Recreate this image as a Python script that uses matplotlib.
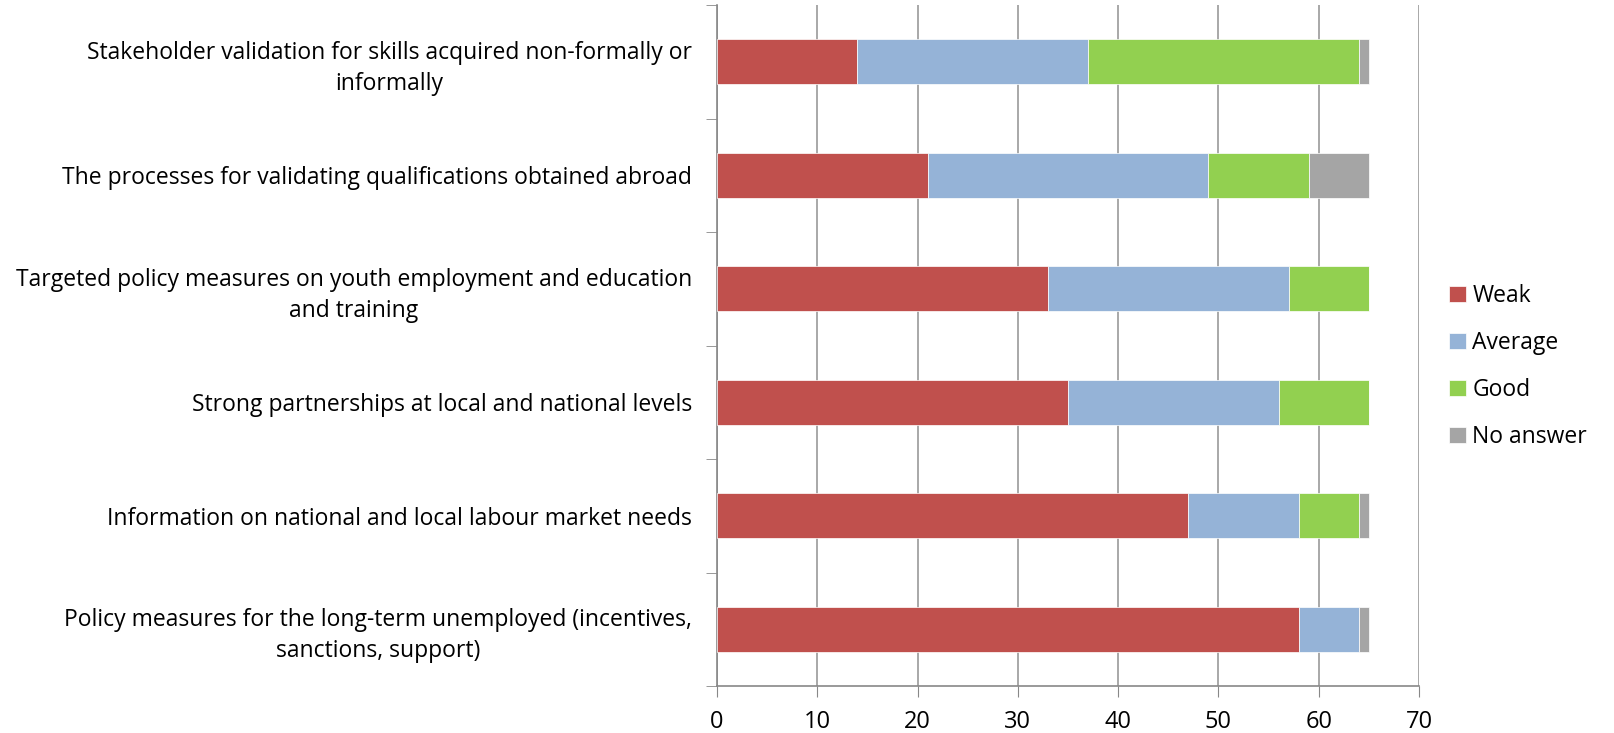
import matplotlib.pyplot as plt
import numpy as np

categories = [
    'Stakeholder validation for skills acquired non-formally or\ninformally',
    'The processes for validating qualifications obtained abroad',
    'Targeted policy measures on youth employment and education\nand training',
    'Strong partnerships at local and national levels',
    'Information on national and local labour market needs',
    'Policy measures for the long-term unemployed (incentives,\nsanctions, support)',
]
weak = [14, 21, 33, 35, 47, 58]
average = [23, 28, 24, 21, 11, 6]
good = [27, 10, 8, 9, 6, 0]
no_answer = [1, 6, 0, 0, 1, 1]

series = [('Weak', weak, '#C0504D'),
          ('Average', average, '#95B3D7'),
          ('Good', good, '#92D050'),
          ('No answer', no_answer, '#A5A5A5')]

plt.rcParams['font.family'] = ['Open Sans', 'DejaVu Sans']

fig = plt.figure(figsize=(16.14, 7.33), dpi=100)
ax = fig.add_axes([717 / 1614, 1 - 686 / 733, 702 / 1614, 681 / 733])

y = np.arange(len(categories))
left = np.zeros(len(categories))
for name, vals, col in series:
    vals = np.array(vals, dtype=float)
    ax.barh(y, vals, left=left, height=0.4, color=col, label=name,
            edgecolor='white', linewidth=0.5, zorder=3)
    left += vals

ax.set_xlim(0, 70)
ax.set_ylim(len(categories) - 0.5, -0.5)
ax.set_xticks(range(0, 71, 10))
ax.set_yticks(y)
ax.set_yticklabels(categories, ma='center', fontsize=16.5, linespacing=1.4)
ax.set_yticks(np.arange(-0.5, len(categories)), minor=True)
ax.tick_params(axis='y', which='major', length=0, pad=18)
ax.tick_params(axis='y', which='minor', length=8, color='#888888', direction='out')
ax.tick_params(axis='x', length=8, color='#888888', labelsize=17, pad=9)

ax.grid(axis='x', color='#999999', linewidth=1.2, zorder=0)
for s in ['top', 'right']:
    ax.spines[s].set_visible(False)
for s in ['left', 'bottom']:
    ax.spines[s].set_color('#888888')
    ax.spines[s].set_linewidth(1.2)

ax.legend(loc='center left', bbox_to_anchor=(1438 / 1614, 0.5),
          bbox_transform=fig.transFigure, frameon=False, fontsize=16.5,
          handlelength=0.7, handleheight=0.7, handletextpad=0.3,
          labelspacing=1.0, borderpad=0)

fig.savefig('out.png', dpi=100)
